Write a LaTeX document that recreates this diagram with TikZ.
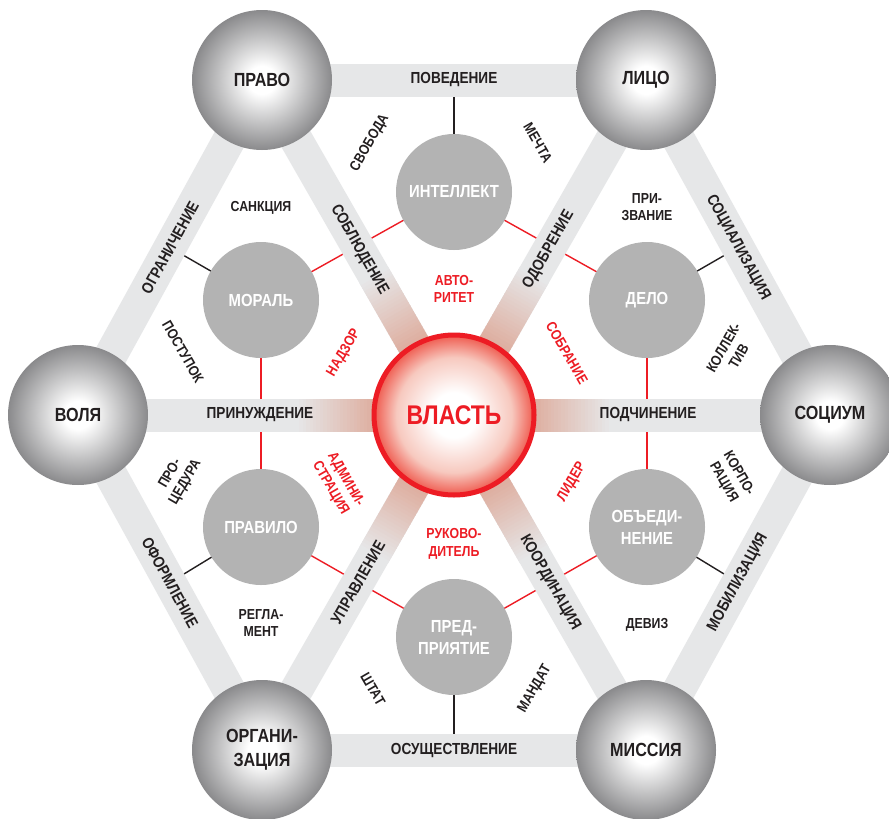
\documentclass[tikz,border=0pt]{standalone}
\usepackage{fontspec}
\setmainfont{Liberation Sans}[FakeStretch=0.85]
\usetikzlibrary{calc}
\definecolor{bargray}{HTML}{E6E7E8}
\definecolor{innergray}{HTML}{B3B3B3}
\definecolor{edgegray}{HTML}{8A8A8C}
\definecolor{myred}{HTML}{ED1C24}
\definecolor{peach}{HTML}{DDA898}
\definecolor{ink}{HTML}{231F20}
\definecolor{pinkmid}{HTML}{F7C9BF}
\definecolor{redmid}{HTML}{EF5A4E}
\pgfdeclareradialshading{ballshade}{\pgfpoint{0bp}{0bp}}{color(0bp)=(white); color(5bp)=(white); color(25bp)=(edgegray); color(50bp)=(edgegray)}
\pgfdeclareradialshading{redshade}{\pgfpoint{0bp}{0bp}}{color(0bp)=(white); color(7bp)=(white); color(18bp)=(pinkmid); color(25bp)=(redmid); color(50bp)=(redmid)}
\pgfdeclarelayer{back}
\pgfdeclarelayer{lines}
\pgfdeclarelayer{bars}
\pgfsetlayers{back,lines,bars,main}
\tikzset{
  outer/.style={circle, minimum size=140pt, inner sep=0pt, shade, shading=ballshade, text=ink, align=center, font=\bfseries\fontsize{19}{24}\selectfont},
  innerc/.style={circle, minimum size=116pt, inner sep=0pt, fill=innergray, text=white, align=center, font=\bfseries\fontsize{17.5}{22}\selectfont},
  core/.style={circle, minimum size=160pt, inner sep=0pt, draw=myred, line width=5pt, shade, shading=redshade, text=myred, font=\bfseries\fontsize{27}{30}\selectfont},
  bar/.style={line width=33pt, color=bargray},
  barlbl/.style={text=ink, inner sep=1pt, font=\bfseries\fontsize{16}{19}\selectfont},
  lbl/.style={text=ink, align=center, inner sep=1pt, font=\bfseries\fontsize{14.5}{17.5}\selectfont},
  rlbl/.style={lbl, text=myred},
  blink/.style={line width=1.4pt, color=ink},
  rlink/.style={line width=1.4pt, color=myred},
}
\begin{document}
\begin{tikzpicture}[x=1pt,y=-1pt]
\useasboundingbox (0,0) rectangle (889,819);
\begin{pgfonlayer}{back}
\fill[white] (0,0) rectangle (889,819);
\end{pgfonlayer}

% outer circles
\node[outer] (pravo) at (262,80) {ПРАВО};
\node[outer] (lico) at (646,80) {ЛИЦО};
\node[outer] (volya) at (78,415) {ВОЛЯ};
\node[outer] (socium) at (830,415) {СОЦИУМ};
\node[outer] (org) at (262,750) {ОРГАНИ-\\ЗАЦИЯ};
\node[outer] (missiya) at (646,750) {МИССИЯ};
% centre
\node[core] (core) at (454,415) {ВЛАСТЬ};
% inner circles
\node[innerc] (intel) at (454,192) {ИНТЕЛЛЕКТ};
\node[innerc] (moral) at (261,300) {МОРАЛЬ};
\node[innerc] (delo) at (647,300) {ДЕЛО};
\node[innerc] (pravilo) at (261,527) {ПРАВИЛО};
\node[innerc] (obed) at (647,527) {ОБЪЕДИ-\\НЕНИЕ};
\node[innerc] (predpr) at (454,637) {ПРЕД-\\ПРИЯТИЕ};

\begin{pgfonlayer}{lines}
\coordinate (mtop) at ($(pravo.center)!0.5!(lico.center)$);
\coordinate (mbot) at ($(org.center)!0.5!(missiya.center)$);
\coordinate (mvp) at ($(volya.center)!0.5!(pravo.center)$);
\coordinate (mls) at ($(lico.center)!0.5!(socium.center)$);
\coordinate (mvo) at ($(volya.center)!0.5!(org.center)$);
\coordinate (msm) at ($(socium.center)!0.5!(missiya.center)$);
\draw[blink] (intel.center) -- (mtop);
\draw[blink] (predpr.center) -- (mbot);
\draw[blink] (moral.center) -- (mvp);
\draw[blink] (delo.center) -- (mls);
\draw[blink] (pravilo.center) -- (mvo);
\draw[blink] (obed.center) -- (msm);
\draw[rlink] (intel.center) -- (moral.center);
\draw[rlink] (intel.center) -- (delo.center);
\draw[rlink] (delo.center) -- (obed.center);
\draw[rlink] (obed.center) -- (predpr.center);
\draw[rlink] (predpr.center) -- (pravilo.center);
\draw[rlink] (pravilo.center) -- (moral.center);
\end{pgfonlayer}

\begin{pgfonlayer}{bars}
\foreach \a/\b in {pravo/lico, lico/socium, socium/missiya, missiya/org, org/volya, volya/pravo}
  \draw[bar] (\a.center) -- (\b.center);
\foreach \a in {pravo,lico,volya,socium,org,missiya}{
  \draw[bar] (\a.center) -- (core.center);
  \foreach \i in {0,...,24}{
    \pgfmathsetmacro\ta{0.58+\i*0.009}
    \pgfmathsetmacro\tb{\ta+0.011}
    \pgfmathtruncatemacro\p{\i*4}
    \draw[line width=33pt, color=peach!\p!bargray] ($(\a.center)!\ta!(core.center)$) -- ($(\a.center)!\tb!(core.center)$);
  }
  \draw[line width=33pt, color=peach] ($(\a.center)!0.805!(core.center)$) -- (core.center);
}
\end{pgfonlayer}

% bar labels
\path (pravo.center) -- node[barlbl] (lpoved) {ПОВЕДЕНИЕ} (lico.center);
\path (org.center) -- node[barlbl] (losush) {ОСУЩЕСТВЛЕНИЕ} (missiya.center);
\path (volya.center) -- node[barlbl, sloped] (logran) {ОГРАНИЧЕНИЕ} (pravo.center);
\path (lico.center) -- node[barlbl, sloped] (lsoc) {СОЦИАЛИЗАЦИЯ} (socium.center);
\path (volya.center) -- node[barlbl, sloped] (loform) {ОФОРМЛЕНИЕ} (org.center);
\path (socium.center) -- node[barlbl, sloped] (lmobil) {МОБИЛИЗАЦИЯ} (missiya.center);
\path (pravo.center) -- node[barlbl, sloped, pos=0.507] (lsobl) {СОБЛЮДЕНИЕ} (core.center);
\path (lico.center) -- node[barlbl, sloped, pos=0.507] (lodobr) {ОДОБРЕНИЕ} (core.center);
\path (org.center) -- node[barlbl, sloped, pos=0.5] (lupr) {УПРАВЛЕНИЕ} (core.center);
\path (missiya.center) -- node[barlbl, sloped, pos=0.5] (lkoord) {КООРДИНАЦИЯ} (core.center);
\path (volya.center) -- node[barlbl, pos=0.484] (lprin) {ПРИНУЖДЕНИЕ} (core.center);
\path (socium.center) -- node[barlbl, pos=0.484] (lpodch) {ПОДЧИНЕНИЕ} (core.center);

% black region labels
\node[lbl, rotate=60] (svoboda) at (370,143) {СВОБОДА};
\node[lbl, rotate=-60] (mechta) at (538,143) {МЕЧТА};
\node[lbl] (sankc) at (261,208) {САНКЦИЯ};
\node[lbl] (prizv) at (647,207) {ПРИ-\\ЗВАНИЕ};
\node[lbl, rotate=-60] (postup) at (183,352) {ПОСТУПОК};
\node[lbl, rotate=60] (kollek) at (731,352) {КОЛЛЕК-\\ТИВ};
\node[lbl, rotate=60] (proced) at (178,478) {ПРО-\\ЦЕДУРА};
\node[lbl, rotate=-60] (korpo) at (731,478) {КОРПО-\\РАЦИЯ};
\node[lbl] (reglam) at (261,623) {РЕГЛА-\\МЕНТ};
\node[lbl] (deviz) at (647,625) {ДЕВИЗ};
\node[lbl, rotate=-60] (shtat) at (373,689) {ШТАТ};
\node[lbl, rotate=60] (mandat) at (535,689) {МАНДАТ};
% red labels
\node[rlbl] (avto) at (454,289) {АВТО-\\РИТЕТ};
\node[rlbl, rotate=60] (nadzor) at (344,353) {НАДЗОР};
\node[rlbl, rotate=-60] (sobr) at (567,353) {СОБРАНИЕ};
\node[rlbl, rotate=-60] (admin) at (338,484) {АДМИНИ-\\СТРАЦИЯ};
\node[rlbl, rotate=60] (lider) at (572,482) {ЛИДЕР};
\node[rlbl] (rukov) at (454,544) {РУКОВО-\\ДИТЕЛЬ};
\end{tikzpicture}
\end{document}
